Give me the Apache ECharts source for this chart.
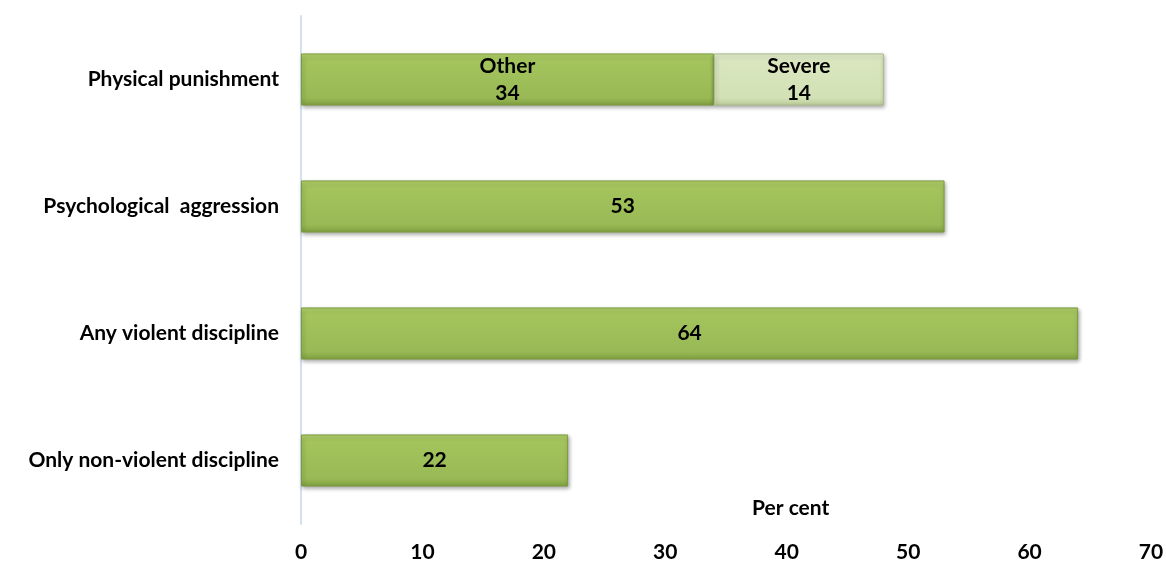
<!DOCTYPE html>
<html><head><meta charset="utf-8">
<script src="https://cdn.jsdelivr.net/npm/echarts@6/dist/echarts.min.js"></script>
<style>html,body{margin:0;padding:0;background:#fff}#c{width:1166px;height:562px}</style>
</head><body><div id="c"></div>
<script>
const categories = ['Physical punishment', 'Psychological  aggression', 'Any violent discipline', 'Only non-violent discipline'];
const mainValues = [34, 53, 64, 22];
const severeValues = [14, null, null, null];
const mainLabelPrefix = ['Other', '', '', ''];
const xTicks = [0, 10, 20, 30, 40, 50, 60, 70];

const FONT = 'Lato';
const FS = 21;
const chart = echarts.init(document.getElementById('c'));
const green = new echarts.graphic.LinearGradient(0, 0, 0, 1, [
  {offset: 0, color: '#b6d46c'}, {offset: 0.12, color: '#a4c45d'},
  {offset: 0.85, color: '#98b955'}, {offset: 1, color: '#80a040'}]);
const light = new echarts.graphic.LinearGradient(0, 0, 0, 1, [
  {offset: 0, color: '#e8f0d5'}, {offset: 0.12, color: '#d9e6bf'},
  {offset: 0.85, color: '#d3e1b6'}, {offset: 1, color: '#bccd98'}]);
chart.setOption({
  animation: false,
  grid: {left: 301, right: 15, top: 16, bottom: 38, containLabel: false, outerBoundsMode: 'none'},
  xAxis: {
    type: 'value', min: 0, max: 70, interval: 10,
    axisLine: {show: false}, axisTick: {show: false}, splitLine: {show: false},
    axisLabel: {margin: 18, color: '#000', fontFamily: FONT, fontWeight: 'bold', fontSize: FS,
      formatter: v => xTicks.includes(v) ? String(v) : ''}
  },
  yAxis: {
    type: 'category', data: categories, inverse: true,
    axisLine: {show: true, lineStyle: {color: '#d3e0f2', width: 2}},
    axisTick: {show: false},
    axisLabel: {margin: 22, color: '#000', fontFamily: FONT, fontWeight: 'bold', fontSize: FS}
  },
  series: [
    {type: 'bar', stack: 's', data: mainValues, barCategoryGap: '59%',
      itemStyle: {color: green, borderColor: '#7a9a3c', borderWidth: 1,
        shadowBlur: 4, shadowOffsetY: 2, shadowOffsetX: 1, shadowColor: 'rgba(0,0,0,0.35)'},
      label: {show: true, position: 'inside', color: '#000', fontFamily: FONT, fontWeight: 'bold', fontSize: FS, lineHeight: 27,
        formatter: p => (mainLabelPrefix[p.dataIndex] ? mainLabelPrefix[p.dataIndex] + '\n' : '') + p.value}},
    {type: 'bar', stack: 's', data: severeValues,
      itemStyle: {color: light, borderColor: '#a9bb88', borderWidth: 1,
        shadowBlur: 4, shadowOffsetY: 2, shadowOffsetX: 1, shadowColor: 'rgba(0,0,0,0.35)'},
      label: {show: true, position: 'inside', color: '#000', fontFamily: FONT, fontWeight: 'bold', fontSize: FS, lineHeight: 27,
        formatter: p => 'Severe\n' + p.value}}
  ],
  graphic: [{type: 'text', left: 752, top: 498,
    style: {text: 'Per cent', fill: '#000', font: 'bold ' + FS + 'px ' + FONT}}]
});
</script></body></html>
